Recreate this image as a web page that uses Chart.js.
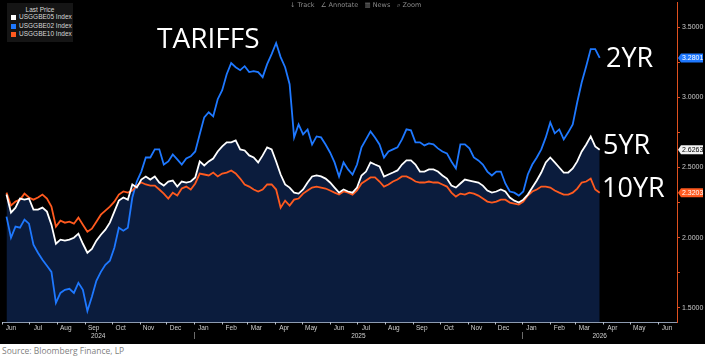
<!DOCTYPE html>
<html><head><meta charset="utf-8">
<script src="https://cdn.jsdelivr.net/npm/chart.js@4/dist/chart.umd.min.js"></script>
<style>
html,body{margin:0;padding:0;background:#fff;width:705px;height:362px;overflow:hidden;}
#wrap{position:absolute;left:0;top:0;width:705px;height:344px;background:#000;}
.ov{position:absolute;white-space:nowrap;line-height:1;}
.big{font-family:'Open Sans',sans-serif;color:#fff;font-weight:400;}
#legend{left:7px;top:3px;width:66px;height:39px;background:#151515;font-family:'Liberation Sans',Arial,sans-serif;font-size:6.5px;color:#d8d8d8;}
#legend .t{position:absolute;left:0;width:66px;top:4px;text-align:center;}
#legend .r{position:absolute;left:12px;}
#legend .sw{position:absolute;left:4px;width:5px;height:5px;}
#tool{left:290px;top:2px;font-family:'DejaVu Sans',sans-serif;font-size:6.5px;color:#8a8a8a;}
#src{left:2px;top:347px;font-family:'Open Sans',sans-serif;font-size:8.5px;color:#7f7f7f;}
</style></head><body>
<div id="wrap"><canvas id="c" width="705" height="344"></canvas></div>
<div class="ov" id="legend">
  <div class="t">Last Price</div>
  <div class="sw" style="top:12px;background:#ffffff"></div><div class="r" style="top:11px">USGGBE05 Index</div>
  <div class="sw" style="top:20.5px;background:#1e78ff"></div><div class="r" style="top:19.5px">USGGBE02 Index</div>
  <div class="sw" style="top:29px;background:#ff5a1f"></div><div class="r" style="top:28px">USGGBE10 Index</div>
</div>
<div class="ov" id="tool">&#8595; Track &nbsp;&nbsp;&#8736; Annotate &nbsp;&nbsp;&#9637; News &nbsp;&nbsp;&#8981; Zoom</div>
<div class="ov big" style="left:157px;top:23px;font-size:28px;">TARIFFS</div>
<div class="ov big" style="left:606px;top:43px;font-size:27px;">2YR</div>
<div class="ov big" style="left:603px;top:130px;font-size:27px;">5YR</div>
<div class="ov big" style="left:602px;top:173px;font-size:27px;">10YR</div>
<div class="ov" id="src">Source: Bloomberg Finance, LP</div>
<script>
// Series values (5-day spacing, starting 2024-06-06)
const be05 = [2.307,2.179,2.214,2.279,2.271,2.279,2.200,2.200,2.214,2.186,2.093,1.957,1.986,1.979,1.986,2.000,2.029,1.957,1.893,1.921,
1.979,2.021,2.057,2.107,2.186,2.264,2.286,2.271,2.379,2.357,2.414,2.436,2.414,2.436,2.393,2.371,2.400,2.407,2.364,2.400,
2.393,2.400,2.429,2.543,2.514,2.543,2.564,2.614,2.650,2.679,2.679,2.693,2.629,2.621,2.586,2.571,2.536,2.586,2.643,2.629,
2.543,2.450,2.379,2.357,2.321,2.314,2.343,2.393,2.436,2.443,2.436,2.421,2.393,2.357,2.321,2.343,2.329,2.321,2.357,2.443,
2.471,2.536,2.521,2.507,2.436,2.450,2.464,2.479,2.521,2.550,2.550,2.521,2.471,2.471,2.486,2.486,2.471,2.443,2.421,2.371,
2.357,2.386,2.414,2.407,2.400,2.393,2.371,2.336,2.321,2.329,2.343,2.329,2.286,2.264,2.250,2.271,2.307,2.357,2.407,2.464,
2.536,2.571,2.536,2.500,2.464,2.464,2.493,2.543,2.614,2.664,2.721,2.650,2.6263];
const be02 = [2.150,2.000,2.079,2.071,2.129,2.100,1.950,1.893,1.843,1.800,1.757,1.536,1.607,1.629,1.636,1.607,1.679,1.629,1.479,1.579,
1.693,1.757,1.807,1.836,1.929,2.071,2.050,2.071,2.286,2.400,2.471,2.571,2.571,2.629,2.629,2.521,2.543,2.593,2.557,2.521,
2.564,2.579,2.614,2.736,2.857,2.893,2.864,2.986,3.050,3.164,3.243,3.214,3.193,3.221,3.179,3.186,3.179,3.143,3.236,3.307,
3.386,3.286,3.214,3.093,2.714,2.807,2.736,2.771,2.664,2.721,2.714,2.664,2.607,2.536,2.436,2.536,2.486,2.450,2.521,2.643,
2.700,2.757,2.714,2.664,2.571,2.614,2.629,2.643,2.700,2.771,2.764,2.679,2.679,2.657,2.671,2.664,2.636,2.614,2.600,2.543,
2.493,2.664,2.664,2.636,2.571,2.550,2.521,2.471,2.443,2.471,2.471,2.386,2.329,2.321,2.300,2.329,2.450,2.521,2.571,2.629,
2.714,2.821,2.743,2.771,2.700,2.750,2.807,2.964,3.107,3.221,3.343,3.343,3.2801];
const be10 = [2.321,2.229,2.257,2.271,2.314,2.286,2.271,2.286,2.307,2.279,2.221,2.079,2.121,2.107,2.114,2.100,2.143,2.093,2.043,2.064,
2.114,2.164,2.193,2.221,2.257,2.307,2.329,2.321,2.336,2.371,2.393,2.379,2.371,2.371,2.343,2.314,2.279,2.321,2.300,2.350,
2.364,2.343,2.386,2.457,2.450,2.443,2.464,2.436,2.457,2.464,2.479,2.457,2.421,2.379,2.364,2.343,2.329,2.343,2.379,2.379,
2.343,2.214,2.264,2.229,2.271,2.279,2.314,2.336,2.357,2.364,2.357,2.350,2.336,2.321,2.307,2.329,2.321,2.307,2.336,2.386,
2.407,2.429,2.429,2.400,2.364,2.379,2.400,2.414,2.436,2.436,2.421,2.400,2.393,2.393,2.400,2.393,2.393,2.379,2.364,2.321,
2.293,2.314,2.307,2.321,2.314,2.300,2.279,2.257,2.250,2.257,2.271,2.271,2.250,2.243,2.236,2.257,2.300,2.329,2.343,2.364,
2.364,2.357,2.336,2.321,2.307,2.307,2.321,2.350,2.393,2.400,2.421,2.343,2.3203];
const monthNames = ['Jun','Jul','Aug','Sep','Oct','Nov','Dec','Jan','Feb','Mar','Apr','May','Jun','Jul','Aug','Sep','Oct','Nov','Dec','Jan','Feb','Mar','Apr','May','Jun'];
const yearNames = ['2024','2025','2026'];
const yTicks = [1.5,1.75,2.0,2.25,2.5,2.75,3.0,3.25,3.5];
const seriesNames = ['USGGBE05 Index','USGGBE02 Index','USGGBE10 Index'];

const DAY = 86400000, T0 = Date.UTC(2024,5,1);
const dayOf = (y,m,d) => (Date.UTC(y,m,d) - T0) / DAY;
const startDate = dayOf(2024,5,6), step = 5;
const xs = be05.map((_, i) => startDate + i*step);
const monthStarts = monthNames.map((_, i) => dayOf(2024, 5+i, 1));
const monthLabelDays = monthStarts.map(d => d + 10);
const xMax = dayOf(2026,5,22);
const yearStarts = [0, dayOf(2025,0,1), dayOf(2026,0,1), xMax];

const pts = arr => arr.map((v,i) => ({x: xs[i], y: v}));
const C_WHITE = '#ffffff', C_BLUE = '#1e78ff', C_ORANGE = '#ff5a1f', C_AXIS = '#e0501f';

const deco = {
  id: 'deco',
  beforeDraw(chart) {
    const c = chart.ctx; c.save(); c.fillStyle = '#000'; c.fillRect(0,0,chart.width,chart.height); c.restore();
  },
  afterDraw(chart) {
    const c = chart.ctx, xS = chart.scales.x, yS = chart.scales.y, a = chart.chartArea;
    c.save();
    c.strokeStyle = '#b8c0cc'; c.lineWidth = 1;
    monthStarts.forEach(d => {
      const px = Math.round(xS.getPixelForValue(d)) + 0.5;
      if (px < a.left || px > a.right) return;
      c.beginPath(); c.moveTo(px, a.bottom); c.lineTo(px, a.bottom + 2.5); c.stroke();
    });
    c.strokeStyle = '#6a6a6a';
    [yearStarts[1], yearStarts[2]].forEach(d => {
      const px = Math.round(xS.getPixelForValue(d)) + 0.5;
      c.beginPath(); c.moveTo(px, a.bottom + 10); c.lineTo(px, a.bottom + 17); c.stroke();
    });
    c.fillStyle = '#d0d0d0'; c.font = '6.5px "Liberation Sans", Arial, sans-serif';
    c.textAlign = 'center'; c.textBaseline = 'middle';
    yearNames.forEach((y, i) => {
      const px = (xS.getPixelForValue(yearStarts[i]) + xS.getPixelForValue(yearStarts[i+1])) / 2;
      c.fillText(y, px, a.bottom + 14);
    });
    c.font = '7px "Liberation Sans", Arial, sans-serif'; c.textAlign = 'left';
    const boxes = [[be02, C_BLUE, '#ffffff'], [be05, '#f2f2f2', '#000000'], [be10, C_ORANGE, '#ffffff']];
    boxes.forEach(([arr, bg, fg]) => {
      const v = arr[arr.length-1], py = yS.getPixelForValue(v), x0 = a.right + 1;
      c.fillStyle = bg;
      c.beginPath(); c.moveTo(x0, py); c.lineTo(x0+3, py-4.5); c.lineTo(703, py-4.5); c.lineTo(703, py+4.5); c.lineTo(x0+3, py+4.5); c.closePath(); c.fill();
      c.fillStyle = fg; c.fillText(v.toFixed(4), x0 + 4, py + 0.5);
    });
    c.restore();
  }
};

new Chart(document.getElementById('c'), {
  type: 'line',
  data: { datasets: [
    { label: seriesNames[0], data: pts(be05), borderColor: C_WHITE, borderWidth: 1.8, pointRadius: 0, fill: 'start', backgroundColor: '#0b1c3d', tension: 0 },
    { label: seriesNames[2], data: pts(be10), borderColor: C_ORANGE, borderWidth: 1.8, pointRadius: 0, fill: false, tension: 0 },
    { label: seriesNames[1], data: pts(be02), borderColor: C_BLUE, borderWidth: 1.8, pointRadius: 0, fill: false, tension: 0 }
  ]},
  options: {
    responsive: false, animation: false, devicePixelRatio: 1,
    layout: { padding: { left: 2, top: 2, right: 0, bottom: 0 } },
    plugins: { legend: { display: false }, tooltip: { enabled: false }, filler: { drawTime: 'beforeDatasetsDraw' } },
    scales: {
      x: {
        type: 'linear', min: 0, max: xMax,
        afterBuildTicks: s => { s.ticks = monthLabelDays.map(v => ({ value: v })); },
        afterFit: s => { s.height = 22; s.paddingLeft = 0; s.paddingRight = 0; },
        ticks: { autoSkip: false, maxRotation: 0, padding: 2, color: '#d0d0d0',
                 font: { size: 6.5, family: '"Liberation Sans", Arial, sans-serif' },
                 callback: (v, i) => monthNames[i] },
        grid: { display: false, drawTicks: false },
        border: { display: true, color: '#8e9bb0', width: 1 }
      },
      y: {
        position: 'right', min: 1.40, max: 3.678,
        afterBuildTicks: s => { s.ticks = yTicks.map(v => ({ value: v })); },
        afterFit: s => { s.width = 28; s.paddingTop = 0; s.paddingBottom = 0; },
        ticks: { padding: 2, color: '#c8c8c8', font: { size: 7, family: '"Liberation Sans", Arial, sans-serif' },
                 callback: v => (Math.abs(v*2 - Math.round(v*2)) < 1e-6) ? v.toFixed(4) : '' },
        grid: { drawOnChartArea: false, drawTicks: true, tickLength: 3, color: C_AXIS },
        border: { display: true, color: C_AXIS, width: 1 }
      }
    }
  },
  plugins: [deco]
});
</script>
</body></html>
